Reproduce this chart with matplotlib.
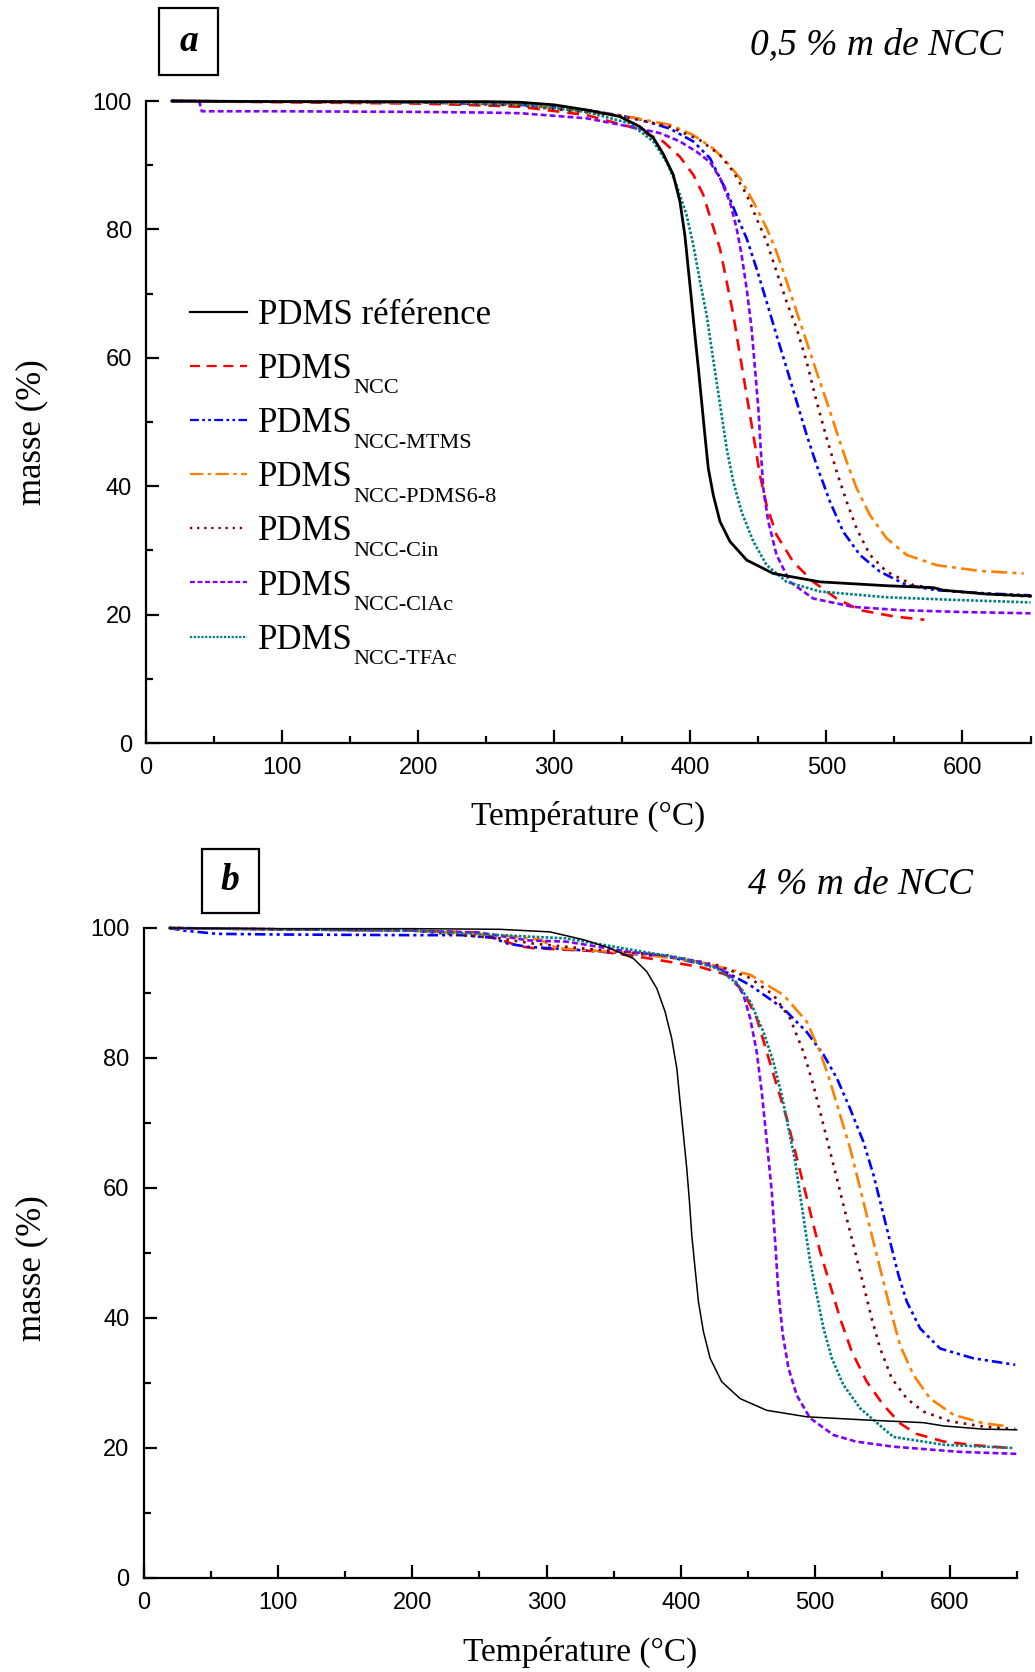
import matplotlib
matplotlib.use("Agg")
import matplotlib.pyplot as plt
from matplotlib.patches import Rectangle
from matplotlib.ticker import MultipleLocator

# ---------------- data : panel a (0,5 % m de NCC) ----------------
A_REF_T = [19, 100, 200, 250, 275, 300, 324, 348, 363, 373, 380, 387.5, 392.4, 396, 398.5, 401, 403.4, 405.9,
           408.3, 410.7, 413.2, 416.9, 421.8, 429.1, 441.4, 461, 495.3, 544.2, 578.5, 585.9, 617.7, 650]
A_REF_M = [100, 99.9, 99.9, 99.9, 99.8, 99.4, 98.6, 97.6, 96.0, 94.2, 91.8, 88.5, 84.3, 79.1, 73.9, 68.7, 63.5, 58.4,
           53.2, 48.0, 42.8, 38.6, 34.5, 31.4, 28.5, 26.4, 25.1, 24.5, 24.2, 23.8, 23.2, 22.9]

A_NCC_T = [19, 100, 200, 250, 275, 324, 360.5, 380, 392.4, 402.2, 409.5, 415.6, 421.8, 426.7, 431.6, 436.5, 441.4,
           446.3, 451.2, 456.1, 463.4, 475.7, 490.4, 507.5, 524.6, 550, 572]
A_NCC_M = [100, 99.8, 99.6, 99.3, 99.1, 97.8, 95.7, 93.7, 91.3, 88.5, 85.4, 81.2, 77.0, 71.9, 66.7, 60.4, 54.2,
           48.0, 41.7, 37.0, 32.4, 28.2, 25.1, 22.5, 20.7, 19.7, 19.2]

A_MTMS_T = [19, 100, 200, 275, 324, 360.5, 385, 402.2, 414.4, 421.8, 427.9, 434, 441.4, 448.7, 456.1, 463.4, 470.8,
            478.1, 485.5, 492.8, 502.6, 512.4, 524.6, 539.3, 558.9, 581, 617.7, 650]
A_MTMS_M = [100, 99.9, 99.8, 99.4, 98.6, 97.3, 95.7, 93.7, 91.1, 88.0, 85.4, 82.2, 78.6, 73.9, 68.7, 63.5, 58.4,
            53.2, 48.0, 43.3, 37.6, 32.9, 29.3, 26.7, 24.6, 23.8, 23.3, 23.0]

A_P68_T = [19, 100, 200, 275, 348.3, 385, 402.2, 416.9, 426.7, 436.5, 446.3, 456.1, 463.4, 470.8, 478.1, 485.5,
           492.8, 500.2, 507.5, 514.9, 522.2, 532, 544.2, 558.9, 581, 612.8, 645]
A_P68_M = [100, 99.9, 99.8, 99.5, 97.8, 96.3, 94.7, 92.6, 90.5, 88.0, 84.3, 80.2, 76.5, 71.9, 67.2, 62.5,
           57.8, 53.2, 48.5, 43.8, 39.7, 35.5, 31.9, 29.3, 27.7, 26.8, 26.4]

A_CIN_T = [19, 100, 200, 275, 348.3, 385, 407.1, 421.8, 431.6, 441.4, 448.7, 456.1, 463.4, 470.8, 478.1, 485.5,
           492.8, 500.2, 507.5, 514.9, 522.2, 532, 544.2, 563.8, 593.2, 650]
A_CIN_M = [100, 99.9, 99.8, 99.3, 97.7, 96.0, 93.9, 91.6, 89.0, 85.4, 81.7, 78.1, 73.4, 68.7, 64.6, 59.4,
           53.2, 47.5, 42.3, 37.6, 33.4, 29.3, 26.7, 24.6, 23.6, 22.8]

A_CLAC_T = [19, 39, 41, 100, 200, 250, 275, 324, 355.6, 377.7, 392.4, 404.6, 414.4, 421.8, 429.1, 434, 437.7, 441.4,
            445, 447.5, 450, 451.7, 453.6, 457.3, 463.4, 473.2, 490.4, 519.8, 554, 600, 650]
A_CLAC_M = [100, 100, 98.4, 98.4, 98.3, 98.2, 98.1, 97.3, 96.0, 95.0, 93.7, 92.1, 90.5, 88.0, 84.3, 80.2, 76.0, 70.8,
            64.6, 58.4, 52.1, 45.9, 39.7, 34.5, 29.3, 25.1, 22.5, 21.2, 20.7, 20.4, 20.2]

A_TFAC_T = [19, 100, 200, 275, 324, 355.6, 372.8, 382.6, 389.9, 397.3, 402.2, 407.1, 412, 415.6, 419.3, 423, 426.7,
            431.6, 437.7, 446.3, 456.1, 470.8, 495.3, 544.2, 593.2, 650]
A_TFAC_M = [100, 99.9, 99.8, 99.5, 98.3, 96.5, 93.7, 90.5, 86.9, 82.2, 77.6, 71.9, 66.7, 61.5, 56.3, 51.1, 45.9,
            40.7, 36.0, 31.4, 27.7, 25.1, 23.6, 22.7, 22.3, 21.9]

# ---------------- data : panel b (4 % m de NCC) ----------------
B_REF_T = [19, 100, 200, 265, 302.6, 327.5, 347.3, 364.7, 374.6, 382.1, 388.3, 393.2, 397, 399.4, 401.9, 404.4, 406.4,
           408.1, 410.6, 413.1, 416.8, 421.8, 430.4, 444.1, 463.9, 493.7, 538.4, 580.6, 595.5, 625.3, 650]
B_REF_M = [100, 99.9, 99.9, 99.8, 99.4, 98.2, 96.9, 95.3, 93.3, 90.7, 87.1, 83.0, 78.4, 73.3, 68.2, 63.0, 57.9,
           52.8, 47.6, 42.5, 37.9, 33.8, 30.2, 27.6, 25.8, 24.8, 24.3, 23.9, 23.4, 22.9, 22.8]

B_NCC_T = [19, 100, 200, 250, 265.4, 280, 290.2, 339.9, 377.1, 414.3, 434.2, 446.6, 456.5, 464, 471.4, 478.9, 485.1,
           491.3, 497.5, 503.7, 511.1, 518.6, 527.3, 538.4, 550.8, 563.2, 575, 595.5, 620, 645]
B_NCC_M = [100, 99.8, 99.6, 99.3, 98.2, 97.2, 96.9, 96.4, 95.3, 94.0, 92.8, 90.2, 86.1, 80.9, 75.8, 70.7, 65.6,
           60.5, 55.3, 50.2, 45.1, 39.9, 34.8, 30.2, 26.6, 23.8, 22.2, 21.0, 20.4, 20.0]

B_MTMS_T = [19, 30, 55, 100, 200, 237, 260, 271, 286, 340, 389.5, 426.7, 451.6, 476.4, 493.7, 506.2, 516.1, 526,
            535.9, 543.4, 549.6, 555.8, 562, 568.2, 578.1, 593, 617.8, 648.9]
B_MTMS_M = [100, 99.6, 99.1, 99.0, 98.9, 98.9, 98.5, 97.6, 97.1, 96.4, 95.6, 94.0, 91.2, 87.6, 84.0, 80.5, 76.9, 72.2,
            67.1, 62.0, 56.9, 51.7, 46.6, 42.5, 38.4, 35.3, 33.8, 32.8]

B_P68_T = [19, 100, 200, 265.4, 295.2, 307.6, 364.7, 414.3, 451.6, 476.4, 493.7, 503.7, 511.1, 518.6, 526, 532.2,
           538.4, 544.6, 550.8, 557, 563.2, 573.2, 585.6, 603, 625.3, 641.4]
B_P68_M = [100, 99.8, 99.6, 98.9, 98.2, 96.9, 96.1, 94.8, 92.8, 89.7, 85.6, 80.9, 76.4, 71.2, 66.1, 61.0,
           55.8, 50.7, 45.6, 40.5, 35.8, 31.2, 27.6, 25.1, 23.8, 23.4]

B_CIN_T = [19, 100, 200, 265.4, 290.2, 339.9, 389.5, 426.7, 451.6, 468.9, 481.3, 491.3, 498.7, 504.9, 511.1, 517.3,
           523.5, 529.7, 535.9, 542.1, 548.4, 557, 568.2, 580.6, 600.5, 625.3, 648.9]
B_CIN_M = [100, 99.8, 99.6, 98.4, 97.6, 96.6, 95.8, 94.3, 92.3, 89.7, 86.1, 80.9, 75.8, 70.7, 65.6, 60.5,
           55.3, 50.2, 45.1, 39.9, 35.3, 30.7, 27.6, 25.6, 24.1, 23.3, 22.9]

B_CLAC_T = [19, 100, 200, 250, 286, 315, 359.7, 389.5, 414.3, 429.2, 439.1, 446.6, 451.6, 456.5, 460.2, 464, 467.7,
            470.2, 472.6, 475.9, 480.1, 486.3, 496.2, 513.6, 530, 558.3, 608, 650]
B_CLAC_M = [100, 99.8, 99.6, 99.3, 98.1, 97.9, 96.4, 95.7, 94.8, 93.8, 92.3, 89.7, 86.1, 80.9, 74.8, 67.1, 59.4,
            51.7, 44.0, 37.4, 32.3, 28.1, 24.6, 22.0, 21.0, 20.2, 19.4, 19.1]

B_TFAC_T = [19, 100, 200, 265.4, 315, 364.7, 401.9, 426.7, 441.6, 451.6, 461.5, 468.9, 475.1, 480.1, 485.1, 488.8,
            492.5, 496.2, 501.2, 506.2, 512.4, 521, 533.5, 550.8, 558.3, 595.5, 647.7]
B_TFAC_M = [100, 99.8, 99.6, 98.9, 98.4, 96.6, 95.3, 93.8, 91.5, 88.7, 84.0, 79.4, 74.3, 69.2, 64.1, 58.9,
            53.8, 48.7, 43.5, 38.4, 33.8, 29.7, 26.1, 23.0, 21.7, 20.5, 20.0]

LABELS = ['PDMS référence', 'PDMS', 'PDMS', 'PDMS', 'PDMS', 'PDMS', 'PDMS']
SUBSCRIPTS = ['', 'NCC', 'NCC-MTMS', 'NCC-PDMS6-8', 'NCC-Cin', 'NCC-ClAc', 'NCC-TFAc']

PANEL_TITLES = ['0,5 % m de NCC', '4 % m de NCC']
PANEL_LETTERS = ['a', 'b']
XLABEL = 'Température (°C)'
YLABEL = 'masse (%)'

# ---------------- styles ----------------
STYLES = [
    dict(color='black', ls='-'),
    dict(color='#ff0000', ls=(0, (4.5, 3))),
    dict(color='#0000ff', ls=(0, (4, 1.5, 1.2, 1.5, 1.2, 1.5))),
    dict(color='#ff8000', ls=(0, (6, 2, 1.5, 2))),
    dict(color='#800000', ls=(0, (1, 2.2))),
    dict(color='#8000ff', ls=(0, (2.2, 1.2))),
    dict(color='#008080', ls=(0, (1, 0.7))),
]

W, H = 1035, 1672
fig = plt.figure(figsize=(W / 100, H / 100), dpi=100)
fig.patch.set_facecolor('white')

ax_a = fig.add_axes([146 / W, 1 - 743 / H, 884.5 / W, 642 / H])
ax_b = fig.add_axes([143.5 / W, 1 - 1578 / H, 873.2 / W, 650 / H])

panel_a = [(A_REF_T, A_REF_M), (A_NCC_T, A_NCC_M), (A_MTMS_T, A_MTMS_M), (A_P68_T, A_P68_M),
           (A_CIN_T, A_CIN_M), (A_CLAC_T, A_CLAC_M), (A_TFAC_T, A_TFAC_M)]
panel_b = [(B_REF_T, B_REF_M), (B_NCC_T, B_NCC_M), (B_MTMS_T, B_MTMS_M), (B_P68_T, B_P68_M),
           (B_CIN_T, B_CIN_M), (B_CLAC_T, B_CLAC_M), (B_TFAC_T, B_TFAC_M)]

for ax, data, ref_lw in [(ax_a, panel_a, 2.0), (ax_b, panel_b, 1.1)]:
    ax.set_facecolor('white')
    for i, ((t, m), st, lab) in enumerate(zip(data, STYLES, LABELS)):
        lw = ref_lw if i == 0 else 1.9
        ax.plot(t, m, color=st['color'], linestyle=st['ls'], lw=lw, label=lab, clip_on=False,
                zorder=3 if i == 0 else 2)
    ax.set_xlim(0, 650)
    ax.set_ylim(0, 100)
    ax.spines['top'].set_visible(False)
    ax.spines['right'].set_visible(False)
    ax.spines['left'].set_linewidth(1.6)
    ax.spines['bottom'].set_linewidth(1.6)
    ax.xaxis.set_major_locator(MultipleLocator(100))
    ax.xaxis.set_minor_locator(MultipleLocator(50))
    ax.yaxis.set_major_locator(MultipleLocator(20))
    ax.yaxis.set_minor_locator(MultipleLocator(10))
    ax.tick_params(which='major', direction='in', length=9.5, width=1.6, pad=10)
    ax.tick_params(which='minor', direction='in', length=5, width=1.6)
    for lbl in ax.get_xticklabels() + ax.get_yticklabels():
        lbl.set_fontfamily('Liberation Sans')
        lbl.set_fontsize(17)

ax_a.set_xlabel(XLABEL, family='Liberation Serif', size=24, va='center')
ax_a.xaxis.set_label_coords(0.5, (743 - 816.5) / 642)
ax_a.set_ylabel(YLABEL, family='Liberation Serif', size=25, va='center')
ax_a.yaxis.set_label_coords((32 - 146) / 884.5, 0.485)

ax_b.set_xlabel(XLABEL, family='Liberation Serif', size=24, va='center')
ax_b.xaxis.set_label_coords(0.5, (1578 - 1652) / 650)
ax_b.set_ylabel(YLABEL, family='Liberation Serif', size=25, va='center')
ax_b.yaxis.set_label_coords((32 - 143.5) / 873.2, 0.477)

LEG_SIZE = 25
leg = ax_a.legend(loc='upper left', bbox_to_anchor=(0.0497, 0.692), frameon=False,
                  prop=dict(family='Liberation Serif', size=LEG_SIZE), handlelength=1.65,
                  handletextpad=0.3, borderaxespad=0, borderpad=0, labelspacing=0.61)
for ln in leg.get_lines():
    ln.set_linewidth(1.6)

# subscripts of the legend entries, attached right after each "PDMS"
fig.canvas.draw()
renderer = fig.canvas.get_renderer()
descent = 0.216 * LEG_SIZE * 100 / 72
for txt, sub in zip(leg.get_texts(), SUBSCRIPTS):
    if not sub:
        continue
    bb = txt.get_window_extent(renderer)
    base = bb.y0 + descent
    fig.text((bb.x1 + 1) / W, (base - 15) / H, sub, ha='left', va='baseline',
             family='Liberation Serif', size=16)

# panel titles
fig.text(1003 / W, 1 - 45 / H, PANEL_TITLES[0], ha='right', va='center',
         family='Liberation Serif', style='italic', size=27)
fig.text(973 / W, 1 - 885 / H, PANEL_TITLES[1], ha='right', va='center',
         family='Liberation Serif', style='italic', size=27)

# panel letters in boxes
for (x0, x1, y0, y1), letter in [((159, 218, 8.5, 75), PANEL_LETTERS[0]),
                                 ((201.5, 259, 848.5, 912.5), PANEL_LETTERS[1])]:
    fig.patches.append(Rectangle((x0 / W, 1 - y1 / H), (x1 - x0) / W, (y1 - y0) / H,
                                 transform=fig.transFigure, fill=False, lw=1.6, ec='black'))
    fig.text((x0 + x1) / 2 / W, 1 - (y0 + y1) / 2 / H, letter, ha='center', va='center',
             family='Liberation Serif', style='italic', weight='bold', size=27)

fig.savefig('out.png', dpi=100, facecolor='white')
